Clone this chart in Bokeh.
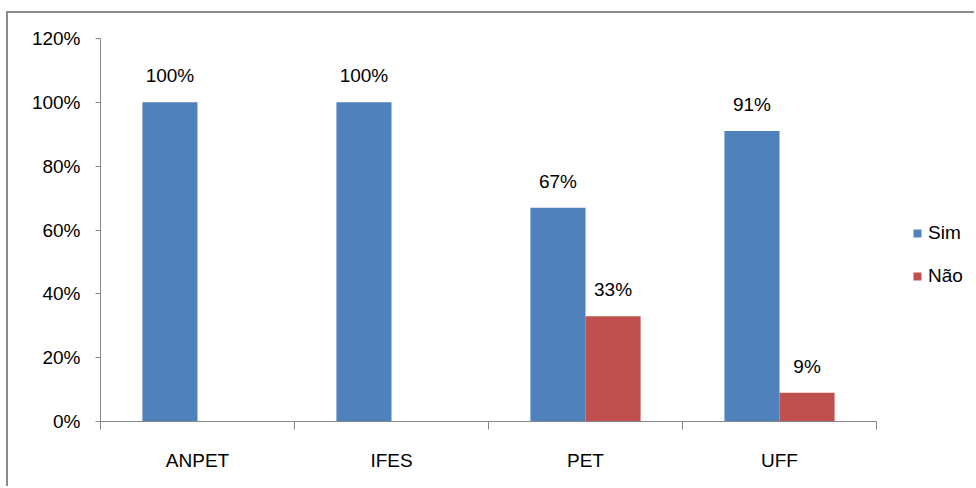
from bokeh.plotting import figure
from bokeh.models import (Range1d, FixedTicker, LinearAxis, PrintfTickFormatter,
                          ColumnDataSource, Legend, LegendItem)
from bokeh.core.properties import value
from bokeh.embed import file_html
from bokeh.resources import INLINE
import numpy as np

categories = ["ANPET", "IFES", "PET", "UFF"]
sim = [100, 100, 67, 91]
nao = [0, 0, 33, 9]
series_names = ["Sim", "Não"]
colors = ["#4F81BD", "#C0504D"]
y_ticks = [0, 20, 40, 60, 80, 100, 120]

FONT = "Liberation Sans"
FS = "19px"
GRAY = "#868686"

W, H = 968, 475
BL, BR, BT, BB = 92, 0, 25, 67
AXIS_W = 776  # pixel length of the category axis
frame_w = W - BL - BR
n = len(categories)

p = figure(width=W, height=H, output_backend="svg", toolbar_location=None,
           x_range=Range1d(0, n * frame_w / AXIS_W), y_range=Range1d(0, 120),
           x_axis_type=None, y_axis_type=None,
           min_border_left=BL, min_border_right=BR, min_border_top=BT, min_border_bottom=BB)
p.styles = {"border-left": "2px solid #8C8C8C", "border-top": "2px solid #8C8C8C",
            "margin-left": "6px", "margin-top": "11px"}
p.grid.visible = False
p.outline_line_color = None
p.background_fill_color = "white"
p.border_fill_color = "white"

centers = np.arange(n) + 0.5
bw = 0.284
src = ColumnDataSource(dict(x_sim=centers - bw / 2, x_nao=centers + bw / 2, sim=sim, nao=nao))
r_sim = p.vbar(x="x_sim", top="sim", width=bw, source=src, fill_color=colors[0], line_color=None)
r_nao = p.vbar(x="x_nao", top="nao", width=bw, source=src, fill_color=colors[1], line_color=None)

# data labels
lx, ly, lt = [], [], []
for xs, vals in ((centers - bw / 2, sim), (centers + bw / 2, nao)):
    for x, v in zip(xs, vals):
        if v > 0:
            lx.append(x); ly.append(v); lt.append(f"{v}%")
p.text(x=lx, y=ly, text=lt, text_align="center", text_baseline="bottom", y_offset=-16,
       text_font=value(FONT), text_font_size=FS, text_color="#000000")

# y axis
yax = LinearAxis(ticker=FixedTicker(ticks=y_ticks, minor_ticks=[]),
                 formatter=PrintfTickFormatter(format="%d%%"))
yax.axis_line_color = GRAY
yax.major_tick_line_color = GRAY
yax.major_tick_out = 5
yax.major_tick_in = 0
yax.minor_tick_line_color = None
yax.major_label_standoff = 15
yax.major_label_text_font = FONT
yax.major_label_text_font_size = FS
yax.major_label_text_color = "#000000"
p.add_layout(yax, "left")

# x axis: boundary ticks as minor ticks, labels at centers
xax = LinearAxis(ticker=FixedTicker(ticks=list(centers), minor_ticks=list(range(n + 1))),
                 bounds=(0, n))
xax.major_label_overrides = {float(c): nm for c, nm in zip(centers, categories)}
xax.axis_line_color = GRAY
xax.major_tick_line_color = None
xax.major_tick_out = 0
xax.major_tick_in = 0
xax.minor_tick_line_color = GRAY
xax.minor_tick_out = 8
xax.minor_tick_in = 0
xax.major_label_standoff = 20
xax.major_label_text_font = FONT
xax.major_label_text_font_size = FS
xax.major_label_text_color = "#000000"
p.add_layout(xax, "below")

legend = Legend(items=[LegendItem(label=series_names[0], renderers=[r_sim]),
                       LegendItem(label=series_names[1], renderers=[r_nao])],
                location=(812, 134), margin=0, padding=0, spacing=21,
                glyph_width=10, glyph_height=10, label_standoff=6,
                label_text_font=FONT, label_text_font_size=FS, label_text_color="#000000",
                border_line_color=None, background_fill_alpha=0)
p.add_layout(legend, "center")

open("out.html", "w").write(file_html(p, INLINE))
